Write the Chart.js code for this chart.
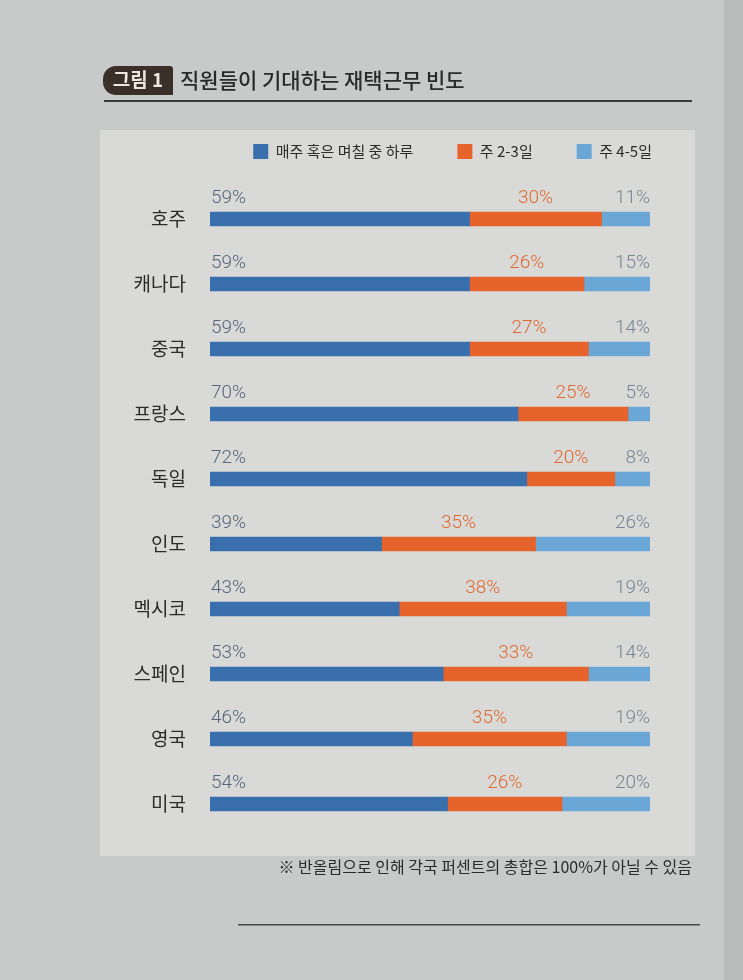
<!DOCTYPE html>
<html><head><meta charset="utf-8">
<script src="https://cdn.jsdelivr.net/npm/chart.js@4.4.0/dist/chart.umd.min.js"></script>
<style>
html,body{margin:0;padding:0;background:#c7c9c8;}
canvas{display:block;}
</style></head><body>
<canvas id="c" width="743" height="980"></canvas>
<script>
const categories = ['호주','캐나다','중국','프랑스','독일','인도','멕시코','스페인','영국','미국'];
const weeklyFewDays = [59,59,59,70,72,39,43,53,46,54];
const twoThreeDays = [30,26,27,25,20,35,38,33,35,26];
const fourFiveDays = [11,15,14,5,8,26,19,14,19,20];
const seriesNames = ['매주 혹은 며칠 중 하루','주 2-3일','주 4-5일'];
const titleBadge = '그림 1';
const titleText = '직원들이 기대하는 재택근무 빈도';
const footnote = '※ 반올림으로 인해 각국 퍼센트의 총합은 100%가 아닐 수 있음';

const barColors = ['#3a6fad','#e6642c','#6aa6d6'];
const labelColors = ['#56657a','#e0692f','#788594'];
const KR = '"Noto Sans CJK KR", "Noto Sans", sans-serif';

const pageDecor = {
  id:'pageDecor',
  beforeDraw(chart){
    const ctx = chart.ctx;
    ctx.save();
    ctx.fillStyle = '#c8cac9';
    ctx.fillRect(0,0,743,980);
    ctx.fillStyle = '#b9bbba';
    ctx.fillRect(724,0,19,980);
    ctx.fillStyle = '#d9dad8';
    ctx.fillRect(100,130,595,726);
    ctx.fillStyle = '#3a3a3a';
    ctx.fillRect(104,100,588,2);
    ctx.fillStyle = '#3b3029';
    ctx.beginPath();
    ctx.roundRect(103,66,70,29,[13,3,0,13]);
    ctx.fill();
    ctx.fillStyle = '#ece6dc';
    ctx.font = 'bold 19px ' + KR;
    ctx.textBaseline = 'middle';
    ctx.textAlign = 'center';
    ctx.fillText(titleBadge,138,80);
    ctx.fillStyle = '#2a2a2a';
    ctx.font = '500 21px ' + KR;
    ctx.textAlign = 'left';
    ctx.fillText(titleText,180,80);
    ctx.fillStyle = '#2b2b2b';
    ctx.font = '16px ' + KR;
    ctx.textAlign = 'right';
    ctx.fillText(footnote,692,867);
    ctx.fillStyle = '#4a4a4a';
    ctx.fillRect(238,924,462,1.5);
    ctx.restore();
  }
};

const pctLabels = {
  id:'pctLabels',
  afterDatasetsDraw(chart){
    const ctx = chart.ctx;
    ctx.save();
    ctx.font = '300 19px Roboto, "Noto Sans", sans-serif';
    ctx.textBaseline = 'middle';
    chart.data.datasets.forEach((ds,di)=>{
      const meta = chart.getDatasetMeta(di);
      meta.data.forEach((bar,i)=>{
        const v = ds.data[i];
        const y = bar.y - 21;
        let x, align;
        if(di===0){x = bar.base + 1; align = 'left';}
        else if(di===1){x = (bar.base + bar.x)/2; align = 'center';}
        else {x = bar.x; align = 'right';}
        ctx.textAlign = align;
        ctx.fillStyle = labelColors[di];
        ctx.fillText(v + '%', x, y);
      });
    });
    ctx.restore();
  }
};

new Chart(document.getElementById('c'), {
  type:'bar',
  data:{
    labels:categories,
    datasets:[
      {label:seriesNames[0], data:weeklyFewDays, backgroundColor:barColors[0]},
      {label:seriesNames[1], data:twoThreeDays, backgroundColor:barColors[1]},
      {label:seriesNames[2], data:fourFiveDays, backgroundColor:barColors[2]}
    ]
  },
  options:{
    indexAxis:'y',
    responsive:false,
    animation:false,
    devicePixelRatio:1,
    layout:{padding:{top:100,left:100,right:47,bottom:143.5}},
    datasets:{bar:{barThickness:14, borderWidth:0}},
    scales:{
      x:{stacked:true, min:0, max:100, position:'top', display:true,
         grid:{display:false, drawTicks:false}, border:{display:false},
         ticks:{display:false},
         afterFit(s){ s.height = 17.5; }},
      y:{stacked:true, grid:{display:false, drawTicks:false}, border:{display:false},
         ticks:{padding:24, color:'#2b2b2b', font:{family:KR, size:19}},
         afterFit(s){ s.width = 110; }},
      yR:{type:'category', labels:categories, position:'right', display:true,
         grid:{display:false, drawTicks:false}, border:{display:false},
         ticks:{display:false},
         afterFit(s){ s.width = 46; }}
    },
    plugins:{
      legend:{position:'top', align:'end',
        labels:{boxWidth:15, boxHeight:15, padding:44, color:'#2b2b2b',
          font:{family:KR, size:15}}},
      tooltip:{enabled:false}
    }
  },
  plugins:[pageDecor, pctLabels]
});
</script>
</body></html>
